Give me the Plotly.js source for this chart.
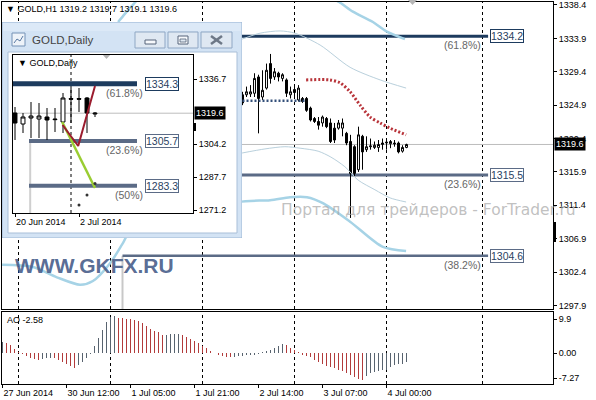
<!DOCTYPE html>
<html><head><meta charset="utf-8">
<script src="https://cdn.plot.ly/plotly-3.0.1.min.js"></script>
<style>html,body{margin:0;padding:0;background:#fff}#chart{width:596px;height:400px}</style>
</head><body><div id="chart"></div>
<script>
// ---------------- DATA ----------------
// Main GOLD,H1 chart (bar index 0 = 27 Jun 2014 20:00)
const mainBars  = [60,61,62,63,64,65,66,67,68,69,70,71,72,73,74,75,76,77,78,79,80,81,82,83,84,85,86,87,88,89,90,91,92,93,94,95,96,97,98,99,100,101];
const mainOpen  = [1326.3,1326.3,1326.4,1326.5,1328.7,1326.0,1327.2,1330.5,1328.7,1329.2,1328.5,1328.3,1326.3,1327.0,1325.6,1325.8,1325.8,1324.5,1323.1,1322.7,1322.5,1323.1,1322.5,1321.8,1321.8,1321.8,1321.1,1320.0,1319.3,1316.2,1320.7,1318.9,1319.3,1319.2,1319.2,1319.6,1319.8,1319.7,1319.8,1319.8,1318.7,1319.2];
const mainHigh  = [1326.7,1327.4,1327.6,1329.2,1329.0,1329.6,1330.5,1331.8,1329.9,1329.4,1329.2,1328.5,1327.4,1327.4,1327.6,1326.0,1326.0,1324.7,1323.3,1323.3,1323.5,1323.3,1323.1,1322.5,1322.9,1323.1,1321.3,1320.9,1319.5,1322.0,1320.9,1320.7,1320.4,1320.0,1320.2,1320.4,1320.4,1320.2,1320.2,1320.0,1319.5,1319.7];
const mainLow   = [1324.9,1326.0,1326.0,1326.0,1321.1,1325.6,1327.0,1327.8,1328.3,1328.1,1328.1,1326.0,1325.8,1325.8,1325.4,1325.2,1324.0,1322.7,1322.5,1321.6,1322.0,1321.8,1319.8,1319.8,1321.6,1320.7,1319.5,1309.7,1315.3,1315.9,1316.2,1318.6,1318.9,1319.0,1318.6,1318.9,1318.9,1319.1,1319.3,1318.4,1318.5,1319.1];
const mainClose = [1325.2,1326.7,1326.7,1328.5,1325.8,1326.9,1329.6,1328.5,1329.4,1328.7,1329.0,1326.5,1326.7,1326.6,1327.2,1325.4,1324.2,1322.9,1322.7,1322.2,1323.3,1322.0,1320.0,1320.2,1322.5,1322.5,1319.8,1315.7,1315.7,1320.9,1318.6,1319.3,1319.4,1319.5,1319.6,1319.8,1319.9,1320.0,1319.7,1318.6,1319.2,1319.6];

// Envelope / band lines (read at selected bars)
const upperThickX = [28.9,30.6,32.6,34.4,82.1,84.4,87.6,92.6,96.1,100.6];
const upperThickY = [1336.1,1337.2,1338.4,1339.3,1339.3,1338.7,1337.5,1336.1,1334.8,1333.8];
const upperThinX  = [59.9,64.4,69.4,73.1,79.4,86.9,94.4,100.9];
const upperThinY  = [1333.8,1334.6,1334.9,1334.6,1333.0,1330.0,1328.3,1327.2];
const lowerThinX  = [59.9,65.6,70.6,74.4,78.9,82.1,85.6,88.9,93.1,96.9,100.9];
const lowerThinY  = [1318.45,1319.0,1319.3,1319.1,1318.7,1317.9,1316.6,1314.8,1313.5,1312.4,1311.85];
const lowerThickX = [-0.1,7.6,13.6,19.4,22.6,26.9,30.1,31.9,58.9,66.9,71.9,76.1,80.1,86.9,95.1,100.9];
const lowerThickY = [1303.4,1303.1,1301.7,1300.7,1301.2,1303.6,1306.3,1307.8,1311.85,1312.1,1312.5,1312.5,1311.7,1309.2,1305.8,1305.25];
const maRedX = [75.9,81.9,84.4,86.9,89.4,91.9,94.4,96.9,100.9];
const maRedY = [1328.3,1328.3,1327.9,1326.7,1324.9,1323.3,1322.5,1321.8,1320.9];
const navyDotX = [56,75.6];
const navyDotY = [1325.5,1325.5];

// Fibonacci levels (main)
const mainFibLevels = [1334.2,1315.5,1304.6];
const mainFibPct    = ['61.8%','23.6%','38.2%'];

// Awesome Oscillator
const aoBars = Array.from({length:102},(_,i)=>i);
const aoValues = [3.2,3.0,2.4,1.2,0.3,-0.3,-0.8,-1.3,-1.6,-1.8,
 -1.7,-1.5,-1.4,-1.5,-1.8,-2.5,-3.2,-3.8,-4.2,-3.5,
 -2.5,-1.5,-0.2,2.0,4.5,6.9,9.1,10.7,10.9,10.4,
 10.2,10.0,9.9,9.7,9.4,8.7,7.9,7.2,6.6,6.1,
 5.3,5.4,5.5,5.55,5.6,5.2,4.7,4.2,3.5,3.0,
 2.2,1.5,0.8,0.2,-0.5,-0.7,-1.0,-1.2,-1.0,-0.8,
 -0.7,-0.6,-0.5,-0.4,-0.1,0.3,0.6,1.0,1.6,2.2,
 2.6,2.4,1.5,1.0,0.3,-0.5,-0.8,-1.2,-1.8,-2.5,
 -3.0,-3.6,-4.0,-4.4,-4.8,-5.2,-5.7,-6.4,-6.9,-7.4,
 -7.9,-6.7,-5.7,-5.4,-5.2,-5.0,-4.8,-4.0,-3.5,-3.2,
 -3.0,-2.58];

// Axis ticks
const xTickBars = [0,16,32,48,64,80,96];
const xTickText = ['27 Jun 2014','30 Jun 12:00','1 Jul 05:00','1 Jul 21:00','2 Jul 14:00','3 Jul 07:00','4 Jul 00:00'];
const separatorBars = [4,27,50,73,96,120];
const fibAnchorBar = 30;
const mainYTicks = [1338.4,1333.9,1329.4,1324.9,1320.4,1315.9,1311.4,1306.9,1302.4,1297.9];
const aoYTicks = [9.9,0,-7.27];
const aoYTickText = ['9.9','0.00','-7.27'];

// Inset GOLD,Daily (day index 0 = 20 Jun 2014)
const dayIdx   = [0,1,2,3,4,5,6,7,8,9,10];
const dayOpen  = [1319.7,1314.2,1317.2,1316.7,1317.7,1316.7,1315.2,1326.9,1326.9,1327.2,1319.2];
const dayHigh  = [1322.7,1319.7,1325.2,1324.7,1322.2,1322.2,1329.7,1332.7,1332.2,1327.7,1320.2];
const dayLow   = [1306.2,1309.7,1307.2,1307.2,1306.2,1310.2,1309.7,1314.7,1320.2,1309.7,1317.7];
const dayClose = [1314.7,1317.7,1318.2,1318.2,1316.2,1316.4,1327.2,1326.6,1326.6,1319.7,1319.6];
const insetTickIdx  = [0,8];
const insetTickText = ['20 Jun 2014','2 Jul 2014'];
const insetSeparator = 7;
const insetYTicks = [1336.7,1304.2,1287.7,1271.2];
const insetFibLevels = [1334.3,1305.7,1283.3];
const insetFibPct    = ['61.8%','23.6%','50%'];
const insetRedX = [5.95,7.9,10.0];
const insetRedY = [1313.7,1303.2,1333.2];
const insetGreenX = [5.9,10.0];
const insetGreenY = [1315.2,1282.2];
const insetDotX = [8,9,10];
const insetDotY = [1273.7,1278.7,1284.5];

// ---------------- STYLE / LAYOUT ----------------
const FONT = 'Liberation Sans, Arial, sans-serif';
const W = 596, H = 400;
const px = x => x / W, py = y => 1 - y / H;
const NAVY = '#1d3b5e', SLATE = '#5b6b86';
const mainXRange = [-0.125, 137.625];
const mainYRange = [1297.43, 1338.8];
const aoYRange = [-8.93, 12.02];
const inXRange = [-0.25, 22.25];
const inYRange = [1269.7, 1348.7];
const lastClose = mainClose[mainClose.length-1];

const traces = [];
traces.push({type:'candlestick', x:mainBars, open:mainOpen, high:mainHigh, low:mainLow, close:mainClose,
  xaxis:'x', yaxis:'y', whiskerwidth:0,
  increasing:{line:{color:'#000',width:1}, fillcolor:'#fff'},
  decreasing:{line:{color:'#000',width:1}, fillcolor:'#000'}, hoverinfo:'skip'});
const lineTrace = (x,y,color,width,dash,ax,ay,shape) => ({type:'scatter',mode:'lines',x,y,xaxis:ax||'x',yaxis:ay||'y',
  line:{color,width,dash:dash||'solid',shape:shape||'spline',smoothing:0.8},hoverinfo:'skip',cliponaxis:true});
traces.push(lineTrace(upperThickX,upperThickY,'#a6d3e6',2.5));
traces.push(lineTrace(lowerThickX,lowerThickY,'#a6d3e6',2.5));
traces.push(lineTrace(upperThinX,upperThinY,'#b9d0dc',1));
traces.push(lineTrace(lowerThinX,lowerThinY,'#b9d0dc',1));
traces.push(lineTrace(maRedX,maRedY,'#b8343a',3,'2px,2px'));
traces.push(lineTrace(navyDotX,navyDotY,'#34507a',2.5,'2px,2px','x','y','linear'));

// AO histogram
const aoColors = aoValues.map((v,i)=> (i>0 && v < aoValues[i-1]) ? '#b23b3b' : '#58636f');
traces.push({type:'bar', x:aoBars, y:aoValues, width:0.25, xaxis:'x2', yaxis:'y2',
  marker:{color:aoColors, line:{width:0}}, hoverinfo:'skip'});

// window frame subplot (empty trace so subplot exists)
traces.push({type:'scatter', x:[], y:[], xaxis:'x3', yaxis:'y3', hoverinfo:'skip'});

// inset chart
traces.push({type:'candlestick', x:dayIdx, open:dayOpen, high:dayHigh, low:dayLow, close:dayClose,
  xaxis:'x4', yaxis:'y4', whiskerwidth:0,
  increasing:{line:{color:'#000',width:1}, fillcolor:'#fff'},
  decreasing:{line:{color:'#000',width:1}, fillcolor:'#000'}, hoverinfo:'skip'});
traces.push(lineTrace(insetGreenX,insetGreenY,'#9acd32',2.5,'solid','x4','y4','linear'));
traces.push(lineTrace(insetRedX,insetRedY,'#9b1c2e',2,'solid','x4','y4','linear'));
traces.push({type:'scatter',mode:'markers',x:insetDotX,y:insetDotY,xaxis:'x4',yaxis:'y4',
  marker:{size:3,color:'#333'},hoverinfo:'skip'});

// ---- shapes ----
const shapes = [];
separatorBars.forEach(b=>{
  shapes.push({type:'line',xref:'x',yref:'y',x0:b,x1:b,y0:mainYRange[0],y1:mainYRange[1],layer:'between',line:{color:'#000',width:1,dash:'3px,3px'}});
  shapes.push({type:'line',xref:'x2',yref:'y2',x0:b,x1:b,y0:aoYRange[0],y1:aoYRange[1],layer:'between',line:{color:'#000',width:1,dash:'3px,3px'}});
});
shapes.push({type:'line',xref:'x',yref:'y',x0:mainXRange[0],x1:mainXRange[1],y0:lastClose,y1:lastClose,layer:'between',line:{color:'#bdbdbd',width:1}});
shapes.push({type:'line',xref:'x',yref:'y',x0:fibAnchorBar,x1:fibAnchorBar,y0:mainFibLevels[2],y1:mainYRange[0],layer:'between',line:{color:'#c8c8c8',width:2}});
const mainFibColors = [NAVY, SLATE, SLATE];
mainFibLevels.forEach((lv,k)=>{
  shapes.push({type:'line',xref:'x',yref:'y',x0:fibAnchorBar,x1:121.4,y0:lv,y1:lv,layer:'between',line:{color:mainFibColors[k],width:k===2?2.5:3}});
});
shapes.push({type:'path',xref:'paper',yref:'paper',path:`M ${px(408)} ${py(0)} L ${px(417)} ${py(0)} L ${px(412.5)} ${py(5)} Z`,fillcolor:'#b5b5b5',line:{width:0}});
shapes.push({type:'rect',xref:'paper',yref:'paper',x0:px(553),x1:px(556),y0:py(222),y1:py(242),fillcolor:'#000',line:{width:0}});

// window frame (x3/y3 in pixel units)
const win = (o)=>Object.assign({xref:'x3',yref:'y3',layer:'between'},o);
shapes.push(win({type:'rect',x0:2,x1:242,y0:22,y1:238,fillcolor:'#d3e3f4',line:{color:'#9cb6d4',width:1}}));
shapes.push(win({type:'rect',x0:3,x1:241,y0:23,y1:31,fillcolor:'#dce9f7',line:{width:0}}));
shapes.push(win({type:'rect',x0:8,x1:237,y0:52,y1:233,fillcolor:'#ffffff',line:{color:'#a9bfd8',width:1}}));
shapes.push(win({type:'rect',x0:12,x1:25,y0:33,y1:46,fillcolor:'#eef3f9',line:{color:'#7592b6',width:1}}));
shapes.push(win({type:'path',path:'M 14 43 L 17 39 L 20 41 L 23 36',line:{color:'#5a7aa3',width:1}}));
[[135,165],[168,198],[201,232]].forEach(b=>{
  shapes.push(win({type:'rect',x0:b[0],x1:b[1],y0:32,y1:48,fillcolor:'#dfe8f2',line:{color:'#8fa7c4',width:1}}));
});
shapes.push(win({type:'rect',x0:145,x1:156,y0:40,y1:44,fillcolor:'#f7f9fc',line:{color:'#56647a',width:1}}));
shapes.push(win({type:'rect',x0:178,x1:188,y0:36,y1:44,fillcolor:'#f7f9fc',line:{color:'#56647a',width:1}}));
shapes.push(win({type:'rect',x0:180,x1:186,y0:39,y1:42,fillcolor:'#dfe8f2',line:{color:'#56647a',width:0.8}}));
shapes.push(win({type:'line',x0:211,x1:222,y0:36,y1:44,line:{color:'#6d7887',width:2.5}}));
shapes.push(win({type:'line',x0:211,x1:222,y0:44,y1:36,line:{color:'#6d7887',width:2.5}}));
shapes.push(win({type:'path',path:'M 102 54 L 111 54 L 106.5 59 Z',fillcolor:'#b5b5b5',line:{width:0}}));
shapes.push(win({type:'rect',x0:193,x1:196,y0:123,y1:131,fillcolor:'#000',line:{width:0}}));

// inset chart shapes
const ins = (o)=>Object.assign({xref:'x4',yref:'y4',layer:'between'},o);
shapes.push(ins({type:'line',x0:insetSeparator,x1:insetSeparator,y0:inYRange[0],y1:inYRange[1],line:{color:'#000',width:1,dash:'3px,3px'}}));
shapes.push(ins({type:'line',x0:inXRange[0],x1:inXRange[1],y0:dayClose[dayClose.length-1],y1:dayClose[dayClose.length-1],line:{color:'#bdbdbd',width:1}}));
shapes.push(ins({type:'line',x0:1.9,x1:1.9,y0:insetFibLevels[1],y1:inYRange[0],line:{color:'#cfcfcf',width:2}}));
insetFibLevels.forEach((lv,k)=>{
  shapes.push(ins({type:'line',x0:k===0?inXRange[0]:1.75,x1:15.25,y0:lv,y1:lv,line:{color:k===0?NAVY:SLATE,width:k===0?5:4}}));
});

// ---- annotations ----
const ann = [];
const lb = mainBars.length-1;
ann.push({xref:'paper',yref:'paper',x:px(4),y:py(9),xanchor:'left',yanchor:'middle',showarrow:false,
  text:`▼ GOLD,H1 ${mainOpen[lb].toFixed(1)} ${mainHigh[lb].toFixed(1)} ${mainLow[lb].toFixed(1)} ${mainClose[lb].toFixed(1)}`,
  font:{family:FONT,size:9,color:'#000'}});
mainFibLevels.forEach((lv,k)=>{
  ann.push({xref:'x',yref:'y',x:121.9,y:lv,xanchor:'left',yanchor:'middle',showarrow:false,text:lv.toFixed(1),
    font:{family:FONT,size:10.5,color:'#2a3f5f'},bgcolor:'#fff',bordercolor:mainFibColors[k],borderwidth:1,borderpad:0});
  ann.push({xref:'x',yref:'y',x:120,y:lv,xanchor:'right',yanchor:'top',yshift:-1,showarrow:false,text:'('+mainFibPct[k]+')',
    font:{family:FONT,size:10.5,color:'#666'}});
});
ann.push({xref:'paper',yref:'y',x:px(554),y:lastClose,xanchor:'left',yanchor:'middle',showarrow:false,text:lastClose.toFixed(1),
  font:{family:FONT,size:9,color:'#fff'},bgcolor:'#000',borderpad:1});
ann.push({xref:'paper',yref:'paper',x:px(5),y:py(320),xanchor:'left',yanchor:'middle',showarrow:false,
  text:'AO '+aoValues[aoValues.length-1].toFixed(2),font:{family:FONT,size:9,color:'#000'}});
ann.push({xref:'paper',yref:'paper',x:px(30),y:py(40),xanchor:'left',yanchor:'middle',showarrow:false,
  text:'GOLD,Daily',font:{family:FONT,size:11.5,color:'#444'}});
ann.push({xref:'paper',yref:'paper',x:px(16),y:py(63),xanchor:'left',yanchor:'middle',showarrow:false,
  text:'▼ GOLD,Daily',font:{family:FONT,size:9,color:'#000'}});
insetFibLevels.forEach((lv,k)=>{
  ann.push({xref:'x4',yref:'y4',x:16.25,y:lv,xanchor:'left',yanchor:'middle',showarrow:false,text:lv.toFixed(1),
    font:{family:FONT,size:10.5,color:'#2a3f5f'},bgcolor:'#fff',bordercolor:k===0?NAVY:SLATE,borderwidth:1,borderpad:0});
  ann.push({xref:'x4',yref:'y4',x:16.25,y:lv,xanchor:'right',yanchor:'top',yshift:-1,showarrow:false,text:'('+insetFibPct[k]+')',
    font:{family:FONT,size:10.5,color:'#666'}});
});
ann.push({xref:'paper',yref:'y4',x:px(194),y:dayClose[dayClose.length-1],xanchor:'left',yanchor:'middle',showarrow:false,
  text:dayClose[dayClose.length-1].toFixed(1),font:{family:FONT,size:9,color:'#fff'},bgcolor:'#000',borderpad:1});
ann.push({xref:'paper',yref:'paper',x:px(279),y:py(210),xanchor:'left',yanchor:'middle',showarrow:false,
  text:'Портал для трейдеров - ForTrader.ru',font:{family:'DejaVu Sans, sans-serif',size:15.5,color:'rgba(165,165,165,0.7)'}});
ann.push({xref:'paper',yref:'paper',x:px(13),y:py(265),xanchor:'left',yanchor:'middle',showarrow:false,
  text:'<b>WWW.GKFX.RU</b>',font:{family:FONT,size:21,color:'rgba(68,90,135,0.9)'}});

const axBase = {showgrid:false, zeroline:false, showline:true, mirror:true, linecolor:'#000', linewidth:1, fixedrange:true,
  tickfont:{family:FONT,size:9,color:'#000'}, tickcolor:'#000'};
const layout = {
  width:W, height:H, margin:{l:0,r:0,t:0,b:0}, paper_bgcolor:'#fff', plot_bgcolor:'rgba(0,0,0,0)',
  showlegend:false, font:{family:FONT,size:9,color:'#000'}, bargap:0,
  xaxis:Object.assign({},axBase,{domain:[px(2),px(553)],range:mainXRange,anchor:'y',showticklabels:false,ticks:'',rangeslider:{visible:false}}),
  yaxis:Object.assign({},axBase,{domain:[py(309),py(2)],range:mainYRange,anchor:'x',side:'right',
    tickvals:mainYTicks,ticktext:mainYTicks.map(v=>v.toFixed(1)),ticks:'outside',ticklen:3}),
  xaxis2:Object.assign({},axBase,{domain:[px(2),px(553)],range:mainXRange,anchor:'y2',
    tickvals:xTickBars,ticktext:xTickText,ticks:'outside',ticklen:3,ticklabelposition:'outside right'}),
  yaxis2:Object.assign({},axBase,{domain:[py(384),py(312)],range:aoYRange,anchor:'x2',side:'right',
    tickvals:aoYTicks,ticktext:aoYTickText,ticks:'outside',ticklen:3}),
  xaxis3:{domain:[px(2),px(242)],range:[2,242],anchor:'y3',visible:false,fixedrange:true},
  yaxis3:{domain:[py(238),py(22)],range:[238,22],anchor:'x3',visible:false,fixedrange:true},
  xaxis4:Object.assign({},axBase,{domain:[px(13),px(193)],range:inXRange,anchor:'y4',
    tickvals:insetTickIdx,ticktext:insetTickText,ticks:'outside',ticklen:3,ticklabelposition:'outside right',rangeslider:{visible:false}}),
  yaxis4:Object.assign({},axBase,{domain:[py(213),py(55)],range:inYRange,anchor:'x4',side:'right',
    tickvals:insetYTicks,ticktext:insetYTicks.map(v=>v.toFixed(1)),ticks:'outside',ticklen:3}),
  shapes, annotations:ann
};
Plotly.newPlot('chart', traces, layout, {displayModeBar:false, staticPlot:true});
</script></body></html>
